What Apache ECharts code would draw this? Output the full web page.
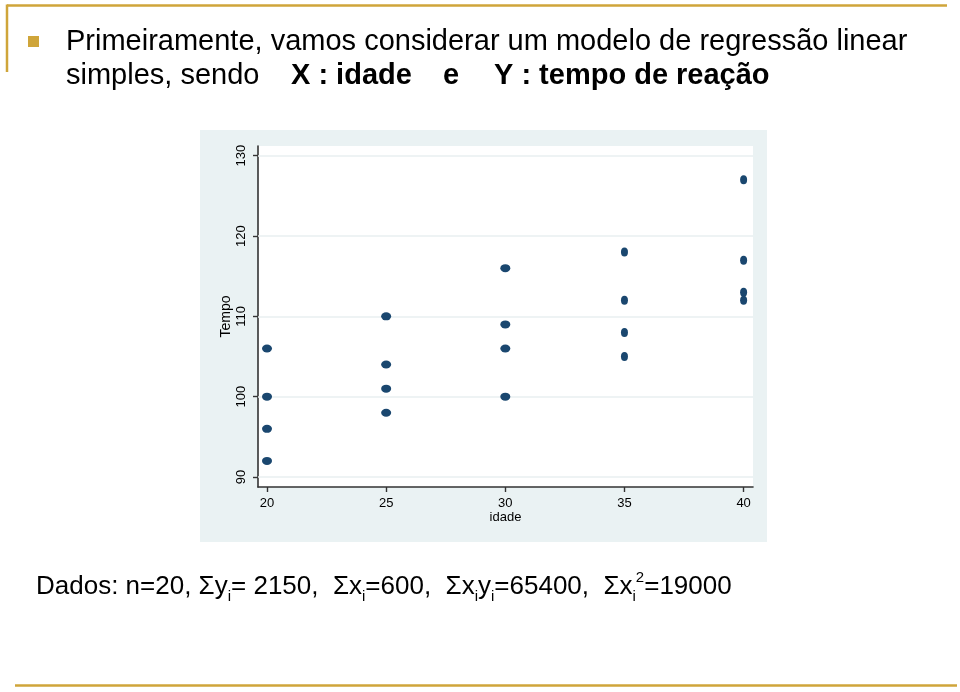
<!DOCTYPE html>
<html>
<head>
<meta charset="utf-8">
<script src="https://cdn.jsdelivr.net/npm/echarts@6/dist/echarts.min.js"></script>
<style>
html,body{margin:0;padding:0;background:#fff;}
#chart{width:960px;height:692px;}
</style>
</head>
<body>
<div id="chart"></div>
<script>
// Data
const idade = [20, 20, 20, 20, 25, 25, 25, 25, 30, 30, 30, 30, 35, 35, 35, 35, 40, 40, 40, 40];
const tempo = [106, 100, 96, 92, 110, 104, 101, 98, 116, 109, 106, 100, 118, 112, 108, 105, 127, 117, 113, 112];
const xTicks = [20, 25, 30, 35, 40];
const yTicks = [90, 100, 110, 120, 130];
const xName = 'idade';
const yName = 'Tempo';
const titleLine1 = 'Primeiramente, vamos considerar um modelo de regressão linear';

const points = idade.map((x, i) => [x, tempo[i]]);

const gold = '#cfa53a';
const font = '"Liberation Sans", Arial, Helvetica, sans-serif';

const chart = echarts.init(document.getElementById('chart'), null, {renderer: 'canvas'});

chart.setOption({
  backgroundColor: '#ffffff',
  animation: false,
  grid: {
    left: 258, top: 146, width: 495, height: 341,
    show: true, backgroundColor: '#ffffff', borderWidth: 0
  },
  xAxis: {
    type: 'value', min: 19.622, max: 40.394,
    name: xName, nameLocation: 'middle', nameGap: 24, nameMoveOverlap: false,
    nameTextStyle: {fontFamily: font, fontSize: 13, color: '#000'},
    axisLine: {show: true, onZero: false, lineStyle: {color: '#333', width: 1.6}},
    axisTick: {show: true, length: 5, customValues: xTicks, lineStyle: {color: '#333', width: 1.4}},
    axisLabel: {customValues: xTicks, margin: 10, fontFamily: font, fontSize: 13, color: '#000'},
    splitLine: {show: false}
  },
  yAxis: {
    type: 'value', min: 88.754, max: 131.21,
    name: yName, nameLocation: 'middle', nameGap: 25, nameRotate: 90, nameMoveOverlap: false,
    nameTextStyle: {fontFamily: font, fontSize: 14, color: '#000'},
    axisLine: {show: true, onZero: false, lineStyle: {color: '#333', width: 1.6}},
    axisTick: {show: true, length: 5, customValues: yTicks, lineStyle: {color: '#333', width: 1.4}},
    axisLabel: {customValues: yTicks, rotate: 90, margin: 10, fontFamily: font, fontSize: 13, color: '#000'},
    splitLine: {show: false}
  },
  series: [{
    type: 'scatter',
    data: points,
    symbol: 'circle',
    symbolSize: function (v) { return v[0] >= 35 ? [7, 9] : [10, 8]; },
    itemStyle: {color: '#1a476f', opacity: 1},
    z: 5,
    markLine: {
      silent: true, symbol: 'none', label: {show: false},
      lineStyle: {color: '#e8eff1', width: 1.5, type: 'solid'},
      data: yTicks.map(v => ({yAxis: v})),
      z: 1
    }
  }],
  graphic: [
    // outer graph panel
    {type: 'rect', shape: {x: 200, y: 130, width: 567, height: 412}, style: {fill: '#eaf2f3'}, z: -10, silent: true},
    // decorative slide lines
    {type: 'line', shape: {x1: 7, y1: 5.5, x2: 947, y2: 5.5}, style: {stroke: gold, lineWidth: 2.5}},
    {type: 'line', shape: {x1: 7, y1: 4.5, x2: 7, y2: 72}, style: {stroke: gold, lineWidth: 2.5}},
    {type: 'line', shape: {x1: 15, y1: 685.5, x2: 957, y2: 685.5}, style: {stroke: gold, lineWidth: 2.5}},
    // bullet
    {type: 'rect', shape: {x: 28, y: 36, width: 11, height: 11}, style: {fill: gold}},
    // title lines
    {type: 'text', left: 66, top: 27, style: {text: titleLine1, font: '29px ' + font, fill: '#000'}},
    {type: 'text', left: 66, top: 61, style: {text: 'simples, sendo', font: '29px ' + font, fill: '#000'}},
    {type: 'text', left: 291, top: 61, style: {text: 'X : idade', font: 'bold 29px ' + font, fill: '#000'}},
    {type: 'text', left: 443, top: 61, style: {text: 'e', font: 'bold 29px ' + font, fill: '#000'}},
    {type: 'text', left: 494, top: 61, style: {text: 'Y : tempo de reação', font: 'bold 29px ' + font, fill: '#000'}},
    // bottom data line
    {
      type: 'text', left: 36, top: 570,
      style: {
        text: 'Dados: n=20, Σy{s|i}= 2150,  Σx{s|i}=600,  Σx{s|i}y{s|i}=65400,  Σx{s|i}{p|2}=19000',
        font: '26px ' + font, fill: '#000', lineHeight: 34,
        rich: {
          s: {fontSize: 15, fontFamily: font, verticalAlign: 'bottom', lineHeight: 34, fill: '#000', color: '#000'},
          p: {fontSize: 15, fontFamily: font, verticalAlign: 'top', lineHeight: 34, fill: '#000', color: '#000'}
        }
      }
    }
  ]
});
</script>
</body>
</html>
